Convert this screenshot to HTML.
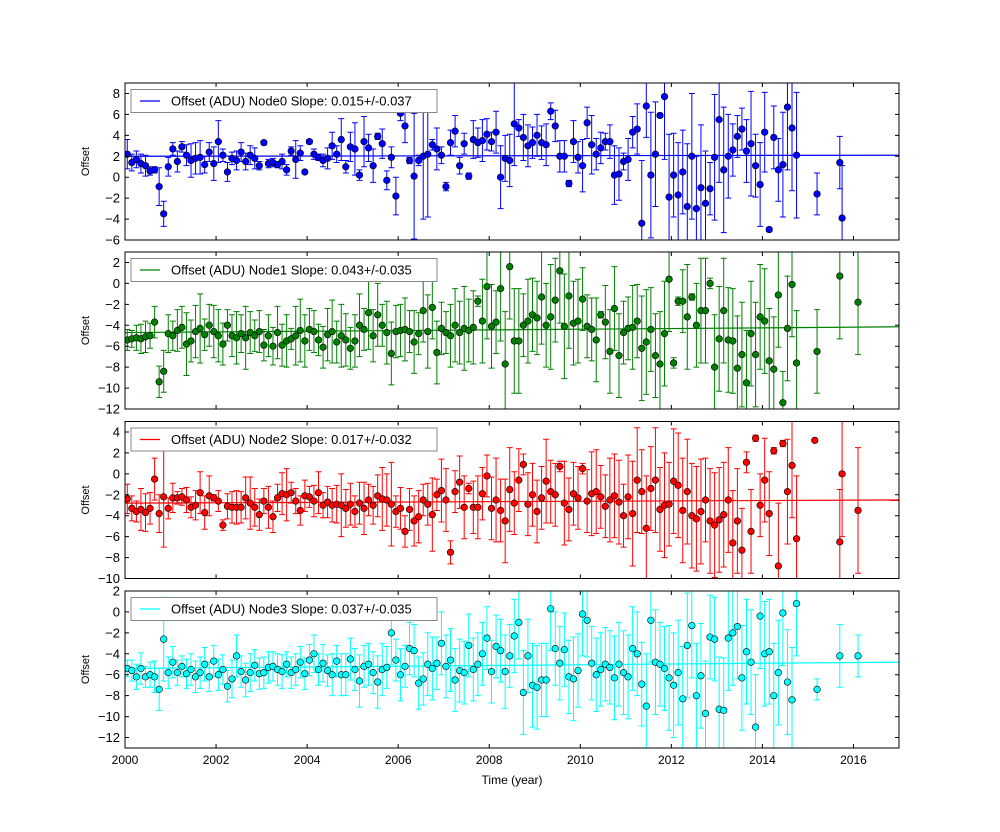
<!DOCTYPE html>
<html><head><meta charset="utf-8"><style>
body{margin:0;background:#fff;}
svg{display:block;font-family:"Liberation Sans",sans-serif;}
</style></head><body>
<svg id="chart" width="1000" height="832" viewBox="0 0 1000 832" xmlns="http://www.w3.org/2000/svg"></svg>
<script>
const times=[2000.05,2000.15,2000.25,2000.35,2000.45,2000.55,2000.65,2000.75,2000.85,2000.95,
2001.05,2001.15,2001.25,2001.35,2001.45,2001.55,2001.65,2001.75,2001.85,2001.95,
2002.05,2002.15,2002.25,2002.35,2002.45,2002.55,2002.65,2002.75,2002.85,2002.95,
2003.05,2003.15,2003.25,2003.35,2003.45,2003.55,2003.65,2003.75,2003.85,2003.95,
2004.05,2004.15,2004.25,2004.35,2004.45,2004.55,2004.65,2004.75,2004.85,2004.95,
2005.05,2005.15,2005.25,2005.35,2005.45,2005.55,2005.65,2005.75,2005.85,2005.95,
2006.05,2006.15,2006.25,2006.35,2006.45,2006.55,2006.65,2006.75,2006.85,2006.95,
2007.05,2007.15,2007.25,2007.35,2007.45,2007.55,2007.65,2007.75,2007.85,2007.95,
2008.05,2008.15,2008.25,2008.35,2008.45,2008.55,2008.65,2008.75,2008.85,2008.95,
2009.05,2009.15,2009.25,2009.35,2009.45,2009.55,2009.65,2009.75,2009.85,2009.95,
2010.05,2010.15,2010.25,2010.35,2010.45,2010.55,2010.65,2010.75,2010.85,2010.95,
2011.05,2011.15,2011.25,2011.35,2011.45,2011.55,2011.65,2011.75,2011.85,2011.95,
2012.05,2012.15,2012.25,2012.35,2012.45,2012.55,2012.65,2012.75,2012.85,2012.95,
2013.05,2013.15,2013.25,2013.35,2013.45,2013.55,2013.65,2013.75,2013.85,2013.95,
2014.05,2014.15,2014.25,2014.35,2014.45,2014.55,2014.65,2014.75];
const node0=[2.2,1.4,1.7,1.3,1.1,0.6,0.7,-0.9,-3.5,1.0,
2.7,1.5,2.9,2.1,1.6,1.8,1.9,1.2,2.4,1.3,
3.4,2.1,0.5,1.8,1.6,2.4,1.5,2.1,1.8,1.1,
3.3,1.3,1.4,1.2,1.5,0.7,2.5,1.7,2.3,0.5,
3.4,2.2,1.9,1.6,1.8,3.0,2.2,3.6,1.0,2.9,
2.7,0.2,3.4,2.8,1.1,3.9,3.2,-0.3,1.9,-1.8,
6.1,4.9,1.6,0.1,1.6,2.0,2.2,3.1,2.7,2.1,
-0.9,3.3,4.4,1.1,3.2,0.1,3.6,3.3,3.5,4.1,
3.4,4.3,0.0,1.8,1.6,5.1,4.7,3.8,3.0,3.3,
4.0,3.3,3.1,6.3,4.9,2.0,2.0,-0.6,3.4,1.9,
1.1,5.2,3.1,2.2,2.8,3.4,3.4,0.2,0.3,1.5,
1.7,4.3,4.6,-4.4,6.8,0.2,2.2,5.9,7.7,-1.9,
0.2,-1.7,0.5,-2.8,2.0,-3.0,-1.0,-2.5,-1.1,1.9,
5.5,0.7,2.0,2.6,3.9,4.6,2.5,3.2,1.1,-0.7,
4.3,-5.0,3.8,0.7,1.2,6.7,4.7,2.1];
const err0=[1.4,0.8,0.8,0.9,1.0,0.4,0.3,1.8,1.2,0.9,
0.6,1.0,0.5,1.0,1.6,1.5,1.6,0.8,0.9,1.6,
2.0,0.6,0.9,0.6,0.9,0.9,0.8,0.9,1.0,0.4,
0.2,0.4,0.4,0.3,0.7,0.5,0.4,1.8,0.7,0.1,
0.2,0.5,0.3,0.6,1.0,1.3,0.8,2.0,0.6,1.4,
2.5,0.5,2.4,1.3,1.6,0.3,1.4,0.9,1.0,1.8,
0.7,1.6,0.3,6.0,0.5,6.0,6.0,0.5,2.0,0.8,
0.4,1.2,1.5,0.8,1.0,0.3,1.8,1.4,2.0,1.5,
0.9,2.0,3.0,2.2,2.5,4.0,0.8,2.2,2.0,1.5,
2.0,1.6,2.0,0.8,1.5,1.5,1.5,0.3,2.0,1.5,
2.5,1.5,2.8,1.5,1.5,0.8,1.6,2.8,2.5,0.8,
2.0,1.5,2.4,6.0,3.0,6.0,5.0,0.2,6.0,6.0,
4.0,5.0,4.0,6.0,6.0,5.0,6.0,5.0,2.5,6.0,
6.0,6.0,4.0,2.5,2.0,2.0,3.0,5.0,3.0,4.0,
3.8,0.2,3.0,3.0,5.0,6.0,6.0,6.0];
const extraT0=[2015.2,2015.7,2015.75], extraV0=[-1.6,1.4,-3.9], extraE0=[2,2.5,5];
const node1=[-5.4,-5.3,-5.2,-5.3,-5.1,-5.0,-3.7,-9.4,-8.4,-4.8,
-5.0,-4.5,-4.2,-5.8,-5.5,-4.6,-4.3,-4.9,-4.0,-4.6,
-5.0,-5.8,-4.0,-5.0,-5.2,-4.8,-5.2,-4.7,-5.0,-4.6,
-5.9,-5.0,-6.0,-4.7,-5.9,-5.5,-5.3,-5.0,-4.5,-5.5,
-4.4,-4.6,-5.4,-6.1,-4.9,-4.6,-5.6,-5.0,-5.4,-6.2,
-5.5,-4.0,-4.4,-2.8,-5.0,-3.0,-4.0,-4.7,-6.7,-4.6,
-4.5,-4.4,-4.6,-5.6,-4.8,-2.6,-4.6,-2.3,-6.6,-4.3,
-4.7,-5.0,-4.0,-4.7,-4.3,-4.5,-4.2,-1.7,-3.6,-0.3,
-4.1,-3.7,-0.5,-7.7,1.6,-5.5,-5.5,-4.0,-3.6,-3.0,
-3.3,-1.3,-4.0,-3.2,-1.6,1.2,-4.1,-1.2,-3.8,-3.6,
-1.5,-4.1,-4.4,-5.4,-3.0,-3.7,-6.5,-2.4,-6.9,-4.7,
-4.3,-4.2,-3.6,-6.2,-5.6,-4.4,-6.9,-7.7,-4.8,0.4,
-7.6,-1.7,-1.7,-3.2,-1.3,-4.0,-2.6,-2.6,0.0,-8.0,
-5.3,-2.6,-5.4,-5.5,-8.1,-6.8,-9.5,-4.8,-6.8,-3.2,
-3.6,-7.4,-8.2,-1.1,-11.4,-4.3,-0.1,-7.6];
const err1=[1.0,0.8,1.2,1.4,1.5,1.2,1.5,1.5,2.0,1.8,
1.4,2.0,2.0,3.0,2.0,2.5,3.3,1.5,2.0,2.5,
2.5,2.0,1.5,2.0,2.5,1.8,3.0,2.0,1.5,2.0,
1.5,2.0,1.8,2.5,2.0,2.5,1.0,2.8,3.0,2.5,
2.0,2.0,1.5,2.0,2.5,3.0,2.0,3.0,2.5,2.0,
2.5,3.0,2.0,3.5,2.5,3.0,2.0,3.0,3.0,2.5,
2.5,3.0,2.0,3.0,2.0,3.0,3.5,3.0,3.0,2.5,
2.0,3.0,3.5,3.0,4.0,3.0,3.5,0.5,4.0,5.0,
4.0,3.0,5.0,5.0,5.0,5.0,5.0,3.0,4.0,3.5,
3.5,4.5,4.0,5.0,4.0,5.0,5.0,5.0,4.0,4.0,
3.0,3.0,3.0,4.0,0.3,3.5,4.0,4.0,4.0,3.0,
3.0,4.0,3.5,5.0,5.0,4.0,4.0,5.0,5.0,5.0,
0.5,0.4,3.0,5.0,0.3,4.0,5.0,5.0,0.5,5.0,
5.0,5.0,5.0,5.0,5.0,5.0,5.0,5.0,5.0,5.0,
5.0,5.0,5.0,5.0,3.0,5.0,5.0,5.0];
const extraT1=[2015.2,2015.7,2016.1], extraV1=[-6.5,0.7,-1.8], extraE1=[4,6,5];
const node2=[-2.4,-3.3,-3.6,-3.4,-3.7,-3.3,-0.5,-3.8,-2.2,-3.3,
-2.3,-2.3,-2.2,-2.5,-3.2,-3.0,-1.8,-3.7,-2.1,-2.3,
-2.6,-4.9,-3.1,-3.2,-3.2,-3.2,-2.3,-2.8,-3.2,-3.9,
-2.6,-3.2,-4.1,-2.3,-1.9,-2.0,-1.8,-2.6,-3.5,-2.1,
-2.2,-2.6,-1.8,-3.0,-2.7,-3.0,-2.9,-3.0,-3.3,-2.9,
-3.6,-2.8,-3.3,-2.5,-3.0,-2.1,-2.4,-2.5,-2.9,-3.6,
-3.3,-5.5,-3.4,-4.5,-4.1,-2.5,-2.9,-3.9,-2.0,-1.6,
-2.5,-7.5,-1.7,-0.8,-3.2,-1.4,-3.2,-3.2,-1.9,-0.2,
-3.3,-2.5,-3.5,-4.5,-1.5,-2.8,-0.6,0.9,-2.9,-2.0,
-3.6,-2.3,-0.7,-1.7,-2.0,0.7,-2.8,-3.4,-1.9,-2.3,
0.5,-2.6,-1.9,-1.7,-2.2,-3.1,-2.5,-2.1,-2.7,-4.0,
-2.2,-3.8,-0.6,-1.7,-5.2,-1.4,-0.6,-3.4,-3.0,-2.9,
-0.7,-1.1,-3.5,-1.7,-4.0,-4.3,-3.6,-2.5,-4.5,-4.9,
-4.4,-3.9,-2.5,-6.6,-4.5,-7.3,1.1,-5.5,3.4,-3.0,
-0.6,-3.8,2.2,-8.8,2.9,-1.7,0.8,-6.2];
const err2=[1.4,1.2,1.0,2.0,1.8,1.5,2.0,1.8,4.8,1.0,
1.4,0.6,0.8,1.2,1.0,1.4,2.0,1.6,1.9,0.3,
1.0,0.5,1.2,1.5,1.6,1.5,2.0,2.5,1.8,1.5,
1.2,2.0,1.5,1.3,2.0,2.5,1.0,1.2,1.4,1.5,
1.0,1.5,2.0,1.2,1.5,1.6,1.8,3.0,1.8,2.0,
1.5,2.0,2.5,1.5,1.8,2.0,3.0,2.5,4.0,1.5,
2.0,1.5,2.0,2.4,2.5,1.5,2.0,3.5,1.5,3.0,
3.0,1.1,2.0,2.5,3.0,0.5,2.5,3.0,2.5,2.0,
3.0,4.0,3.0,4.0,4.0,3.0,3.0,1.0,3.0,3.0,
3.0,3.0,4.0,3.0,3.0,0.5,4.0,3.0,3.0,3.0,
0.5,3.0,4.0,4.0,3.0,3.0,4.0,4.0,4.0,3.0,
4.0,5.0,5.0,4.0,5.0,4.0,5.0,4.0,5.0,4.0,
5.0,5.0,5.0,5.0,5.0,5.0,5.0,4.0,5.0,5.0,
5.0,5.0,5.0,5.0,5.0,4.0,1.0,4.0,0.3,3.0,
4.0,4.0,0.3,6.0,0.3,5.0,5.0,6.0];
const extraT2=[2015.15,2015.7,2015.75,2016.1], extraV2=[3.2,-6.5,0.0,-3.5], extraE2=[0.1,5,6,6];
const node3=[-5.4,-5.6,-6.2,-5.4,-6.2,-6.0,-6.2,-7.4,-2.6,-5.8,
-4.8,-5.8,-5.2,-5.9,-5.5,-6.2,-5.8,-5.0,-6.2,-4.7,
-6.0,-5.5,-7.1,-6.4,-4.2,-5.7,-6.5,-5.8,-5.1,-5.9,
-5.8,-5.3,-5.2,-5.5,-5.7,-5.0,-5.8,-5.5,-4.8,-5.9,
-4.6,-4.0,-5.5,-4.9,-5.6,-6.0,-4.7,-6.0,-6.0,-4.5,
-5.5,-6.6,-5.2,-5.0,-5.8,-6.7,-5.5,-5.3,-2.0,-4.6,
-6.0,-5.2,-3.5,-3.7,-6.8,-6.4,-5.0,-5.4,-4.9,-3.0,
-5.2,-4.6,-6.5,-5.6,-5.8,-3.2,-5.5,-5.0,-4.0,-2.5,
-5.7,-3.3,-3.7,-5.7,-4.2,-2.3,-1.0,-7.7,-4.2,-7.0,
-7.2,-6.5,-6.5,0.3,-3.5,-4.9,-3.6,-6.2,-6.4,-5.6,
-0.2,-0.8,-4.9,-6.0,-5.5,-5.0,-5.3,-6.3,-5.0,-5.8,
-6.2,-3.5,-4.0,-6.9,-9.0,-0.8,-4.8,-5.0,-5.4,-6.3,
-7.0,-5.8,-8.3,-3.2,-1.3,-8.0,-6.1,-9.7,-2.4,-2.6,
-9.3,-9.4,-2.5,-2.0,-1.4,-6.3,-3.8,-4.8,-11.0,-0.4,
-4.0,-3.8,-8.0,-5.8,-0.1,-6.7,-8.4,0.8];
const err3=[0.8,1.0,1.2,1.5,1.0,1.2,1.5,2.0,4.0,1.5,
1.5,1.2,1.0,1.4,1.5,1.5,1.5,1.6,1.4,1.5,
1.5,1.4,1.5,1.8,2.0,1.5,1.6,1.8,1.5,1.5,
1.5,1.5,1.4,1.5,1.6,1.2,1.5,1.5,1.5,1.5,
1.5,1.8,1.5,1.8,1.5,2.0,1.5,2.0,2.0,2.0,
2.0,2.5,2.0,2.0,2.0,2.5,2.5,2.0,3.0,2.0,
2.5,2.0,2.5,2.5,2.5,2.5,3.0,3.0,2.5,3.0,
3.0,3.0,3.0,3.0,3.0,3.0,3.0,3.0,3.0,3.0,
3.0,3.0,3.0,3.5,3.0,3.5,3.5,4.0,3.5,4.0,
4.0,3.5,3.5,4.0,3.5,3.5,3.5,3.5,4.0,3.5,
4.0,3.5,3.5,3.5,3.5,3.5,3.5,4.0,4.0,4.0,
4.0,4.0,4.0,4.0,5.0,4.0,5.0,4.0,4.0,5.0,
5.0,5.0,5.0,5.0,5.0,5.0,5.0,5.0,4.0,4.0,
5.0,5.0,5.0,5.0,5.0,5.0,5.0,5.0,5.0,5.0,
5.0,5.0,5.0,5.0,5.0,5.0,5.0,5.0];
const extraT3=[2015.2,2015.7,2016.1], extraV3=[-7.4,-4.2,-4.2], extraE3=[1,3,2];
const fitStart=[2.0,-4.7,-2.8,-5.4];
const fitEnd=[2.1,-4.15,-2.5,-4.8];
const legendLabels=["Offset (ADU) Node0 Slope: 0.015+/-0.037","Offset (ADU) Node1 Slope: 0.043+/-0.035","Offset (ADU) Node2 Slope: 0.017+/-0.032","Offset (ADU) Node3 Slope: 0.037+/-0.035"];
const yMins=[-6,-12,-10,-13], yMaxs=[9,3,5,2];
const xTicks=[2000,2002,2004,2006,2008,2010,2012,2014,2016];

const svg=document.getElementById('chart');
const NS='http://www.w3.org/2000/svg';
const X0=125,X1=899,XMIN=2000,XMAX=2017;
const tops=[83,252,421.5,591],H=157;
const colors=['#0000ff','#008000','#ff0000','#00ffff'];
const series=[[node0,err0,extraT0,extraV0,extraE0],[node1,err1,extraT1,extraV1,extraE1],[node2,err2,extraT2,extraV2,extraE2],[node3,err3,extraT3,extraV3,extraE3]];
function xs(t){return X0+(t-XMIN)/(XMAX-XMIN)*(X1-X0);}
function mk(tag,attrs,parent){const e=document.createElementNS(NS,tag);for(const k in attrs)e.setAttribute(k,attrs[k]);(parent||svg).appendChild(e);return e;}
const defs=mk('defs',{});
for(let p=0;p<4;p++){
  const top=tops[p];
  const ys=v=>top+H-(v-yMins[p])/(yMaxs[p]-yMins[p])*H;
  const cp=mk('clipPath',{id:'clip'+p},defs);
  mk('rect',{x:X0,y:top,width:X1-X0,height:H},cp);
  const g=mk('g',{'clip-path':'url(#clip'+p+')'});
  
  
  const col=colors[p];
  const [vals,errs,et,ev,ee]=series[p];
  const T=times.concat(et),V=vals.concat(ev),E=errs.concat(ee);
  const fl=mk('line',{x1:X0,x2:X1,y1:ys(fitStart[p]),y2:ys(fitEnd[p]),stroke:col,'stroke-width':1.2},g);
  
  
  for(let i=0;i<V.length;i++){
    const x=xs(T[i]),yt=ys(V[i]+E[i]),yb=ys(V[i]-E[i]);
    const eb=mk('path',{d:`M${x},${yt}V${yb}M${x-3},${yt}H${x+3}M${x-3},${yb}H${x+3}`,stroke:col,'stroke-width':1,fill:'none'},g);
    
    
  }
  for(let i=0;i<V.length;i++){
    const c=mk('circle',{cx:xs(T[i]),cy:ys(V[i]),r:3.3,fill:col,stroke:'#000','stroke-width':0.6},g);
    
    
  }
  const fr=mk('rect',{x:X0,y:top,width:X1-X0,height:H,fill:'none',stroke:'#000','stroke-width':1});
  
  
  for(let v=Math.ceil(yMins[p]/2)*2;v<=yMaxs[p];v+=2){
    const y=ys(v);
    mk('path',{d:`M${X0},${y}h4M${X1},${y}h-4`,stroke:'#000','stroke-width':1});
    const tl=mk('text',{x:X0-5,y:y+4.5,'text-anchor':'end','font-size':13});
    tl.textContent=v<0?'\u2212'+(-v):String(v);
    
    
  }
  for(const t of xTicks){
    const x=xs(t);
    mk('path',{d:`M${x},${top+H}v-4M${x},${top}v4`,stroke:'#000','stroke-width':1});
    if(p===3){
      const xl=mk('text',{x:x,y:top+H+16,'text-anchor':'middle','font-size':12});
      xl.textContent=String(t);
      
      
    }
  }
  const yl=mk('text',{x:0,y:0,'text-anchor':'middle','font-size':11,transform:`translate(${X0-36},${top+H/2}) rotate(-90)`});
  yl.textContent='Offset';
  
  
  const lg=mk('g',{});
  
  
  mk('rect',{x:131,y:top+6.5,width:306,height:23,fill:'#fff',stroke:'#888','stroke-width':1},lg);
  mk('line',{x1:140,x2:160,y1:top+18,y2:top+18,stroke:col,'stroke-width':1.2},lg);
  const lt=mk('text',{x:171,y:top+22.5,'font-size':13},lg);
  lt.textContent=legendLabels[p];
}
const xt=mk('text',{x:512,y:784,'text-anchor':'middle','font-size':12});
xt.textContent='Time (year)';


</script>
</body></html>
